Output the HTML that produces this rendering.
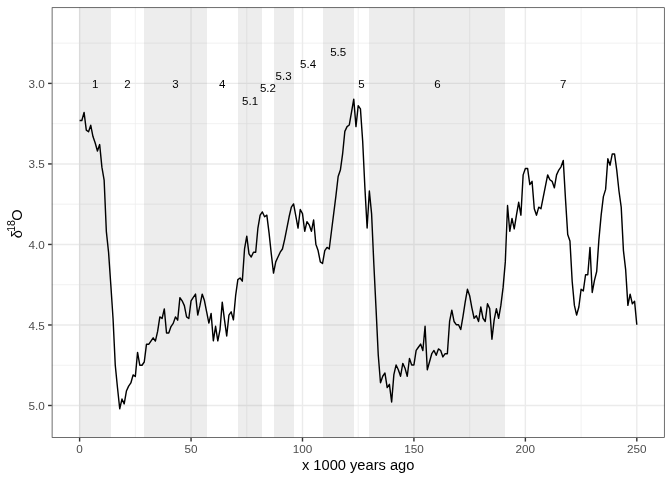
<!DOCTYPE html>
<html><head><meta charset="utf-8"><title>plot</title>
<style>
html,body{margin:0;padding:0;background:#fff;}
body{width:672px;height:480px;overflow:hidden;}
svg{display:block;filter:grayscale(1);}
text{font-family:"Liberation Sans",sans-serif;}
</style></head><body>
<svg width="672" height="480" viewBox="0 0 672 480">
<rect x="0" y="0" width="672" height="480" fill="#ffffff"/>
<g stroke="#EBEBEB" stroke-width="0.71" fill="none">
<line x1="51.75" x2="664.67" y1="43.14" y2="43.14"/>
<line x1="51.75" x2="664.67" y1="123.66" y2="123.66"/>
<line x1="51.75" x2="664.67" y1="204.19" y2="204.19"/>
<line x1="51.75" x2="664.67" y1="284.71" y2="284.71"/>
<line x1="51.75" x2="664.67" y1="365.24" y2="365.24"/>
<line y1="7.33" y2="437.9" x1="135.33" x2="135.33"/>
<line y1="7.33" y2="437.9" x1="246.77" x2="246.77"/>
<line y1="7.33" y2="437.9" x1="358.21" x2="358.21"/>
<line y1="7.33" y2="437.9" x1="469.65" x2="469.65"/>
<line y1="7.33" y2="437.9" x1="581.09" x2="581.09"/>
</g>
<g stroke="#EBEBEB" stroke-width="1.42" fill="none">
<line x1="51.75" x2="664.67" y1="83.40" y2="83.40"/>
<line x1="51.75" x2="664.67" y1="163.93" y2="163.93"/>
<line x1="51.75" x2="664.67" y1="244.45" y2="244.45"/>
<line x1="51.75" x2="664.67" y1="324.98" y2="324.98"/>
<line x1="51.75" x2="664.67" y1="405.50" y2="405.50"/>
<line y1="7.33" y2="437.9" x1="79.61" x2="79.61"/>
<line y1="7.33" y2="437.9" x1="191.05" x2="191.05"/>
<line y1="7.33" y2="437.9" x1="302.49" x2="302.49"/>
<line y1="7.33" y2="437.9" x1="413.93" x2="413.93"/>
<line y1="7.33" y2="437.9" x1="525.37" x2="525.37"/>
<line y1="7.33" y2="437.9" x1="636.81" x2="636.81"/>
</g>
<g fill="#7f7f7f" fill-opacity="0.14">
<rect x="79" y="7.33" width="32" height="430.57"/>
<rect x="144" y="7.33" width="63" height="430.57"/>
<rect x="238" y="7.33" width="24" height="430.57"/>
<rect x="274" y="7.33" width="20" height="430.57"/>
<rect x="323" y="7.33" width="31" height="430.57"/>
<rect x="369" y="7.33" width="136" height="430.57"/>
</g>
<polyline points="79.61,120.44 81.84,120.44 84.07,112.39 86.30,130.10 88.53,131.71 90.75,125.27 92.98,136.55 95.21,142.99 97.44,151.04 99.67,144.60 101.90,167.15 104.13,180.03 106.36,231.57 108.58,252.50 110.81,284.71 113.04,318.53 115.27,365.24 117.50,387.78 119.73,408.72 121.96,399.06 124.19,403.89 126.41,391.01 128.64,386.17 130.87,382.95 133.10,374.90 135.33,376.51 137.56,352.35 139.79,365.24 142.02,365.24 144.25,362.02 146.47,344.30 148.70,344.30 150.93,341.08 153.16,337.86 155.39,341.08 157.62,331.42 159.85,316.92 162.08,318.53 164.30,308.87 166.53,333.03 168.76,333.03 170.99,326.59 173.22,323.36 175.45,316.92 177.68,320.14 179.91,297.60 182.13,300.82 184.36,305.65 186.59,316.92 188.82,318.53 191.05,300.82 193.28,297.32 195.51,294.10 197.74,315.04 199.97,305.38 202.19,294.10 204.42,300.54 206.65,311.82 208.88,323.09 211.11,313.43 213.34,340.81 215.57,326.31 217.80,340.81 220.02,329.53 222.25,302.15 224.48,319.87 226.71,335.97 228.94,315.04 231.17,311.82 233.40,319.87 235.63,295.71 237.85,279.59 240.08,277.98 242.31,281.20 244.54,248.99 246.77,236.11 249.00,253.82 251.23,257.04 253.46,252.21 255.69,252.21 257.91,228.06 260.14,215.17 262.37,211.95 264.60,216.78 266.83,215.17 269.06,232.89 271.29,253.82 273.52,273.15 275.74,261.88 277.97,257.04 280.20,252.21 282.43,248.99 284.66,239.33 286.89,228.06 289.12,216.78 291.35,207.12 293.57,203.90 295.80,215.98 298.03,228.06 300.26,209.53 302.49,213.56 304.72,231.28 306.95,221.61 309.18,224.83 311.41,231.28 313.63,220.00 315.86,244.16 318.09,250.60 320.32,261.88 322.55,263.49 324.78,250.60 327.01,247.38 329.24,248.99 331.46,231.28 333.69,213.56 335.92,195.83 338.15,176.50 340.38,170.06 342.61,153.96 344.84,131.41 347.07,126.58 349.29,124.97 351.52,112.07 353.75,99.18 355.98,126.58 358.21,105.62 360.44,108.85 362.67,141.07 364.90,187.78 367.13,228.06 369.35,191.00 371.58,213.56 373.81,263.49 376.04,308.60 378.27,355.30 380.50,382.70 382.73,376.25 384.96,373.02 387.18,387.53 389.41,384.31 391.64,402.02 393.87,374.64 396.10,364.96 398.33,369.80 400.56,376.25 402.79,363.35 405.01,368.18 407.24,376.25 409.47,358.52 411.70,364.96 413.93,364.96 416.16,350.47 418.39,347.25 420.62,344.03 422.85,350.47 425.07,326.31 427.30,369.80 429.53,361.74 431.76,353.69 433.99,350.47 436.22,355.30 438.45,348.86 440.68,350.47 442.90,356.91 445.13,353.69 447.36,353.69 449.59,321.48 451.82,310.21 454.05,321.48 456.28,324.70 458.51,324.70 460.73,329.53 462.96,316.65 465.19,302.15 467.42,289.27 469.65,295.71 471.88,307.79 474.11,318.26 476.34,315.84 478.57,321.48 480.79,306.99 483.02,318.26 485.25,321.48 487.48,303.76 489.71,308.60 491.94,339.20 494.17,319.87 496.40,308.60 498.62,318.26 500.85,305.38 503.08,287.64 505.31,261.88 507.54,205.51 509.77,231.28 512.00,218.39 514.23,228.86 516.45,215.17 518.68,202.29 520.91,215.17 523.14,174.89 525.37,168.45 527.60,168.45 529.83,184.56 532.06,181.33 534.29,208.73 536.51,215.17 538.74,207.12 540.97,208.73 543.20,197.44 545.43,186.17 547.66,174.89 549.89,179.72 552.12,181.33 554.34,187.78 556.57,174.89 558.80,170.06 561.03,166.84 563.26,160.40 565.49,199.05 567.72,234.50 569.95,240.94 572.17,281.20 574.40,305.38 576.63,315.04 578.86,306.99 581.09,289.27 583.32,290.88 585.55,274.76 587.78,274.76 590.01,247.38 592.23,292.49 594.46,280.40 596.69,271.54 598.92,239.33 601.15,215.17 603.38,196.63 605.61,189.39 607.84,158.79 610.06,165.23 612.29,153.96 614.52,153.96 616.75,170.06 618.98,191.00 621.21,207.12 623.44,250.60 625.67,269.93 627.89,305.38 630.12,294.10 632.35,303.76 634.58,301.35 636.81,324.70" fill="none" stroke="#000" stroke-width="1.42" stroke-linejoin="round" stroke-linecap="butt"/>
<g font-size="11.5" fill="#000" text-anchor="middle">
<text x="95.21" y="88.40">1</text>
<text x="127.53" y="88.40">2</text>
<text x="175.45" y="88.40">3</text>
<text x="222.25" y="88.40">4</text>
<text x="250.11" y="104.51">5.1</text>
<text x="267.94" y="92.43">5.2</text>
<text x="283.55" y="80.35">5.3</text>
<text x="308.06" y="68.27">5.4</text>
<text x="338.15" y="56.19">5.5</text>
<text x="361.55" y="88.40">5</text>
<text x="437.33" y="88.40">6</text>
<text x="563.26" y="88.40">7</text>
</g>
<rect x="52.105" y="7.685" width="612.21" height="429.86" fill="none" stroke="#333333" stroke-width="0.71"/>
<g stroke="#333333" stroke-width="1.42">
<line x1="48.08" x2="51.75" y1="83.40" y2="83.40"/>
<line x1="48.08" x2="51.75" y1="163.93" y2="163.93"/>
<line x1="48.08" x2="51.75" y1="244.45" y2="244.45"/>
<line x1="48.08" x2="51.75" y1="324.98" y2="324.98"/>
<line x1="48.08" x2="51.75" y1="405.50" y2="405.50"/>
<line y1="437.9" y2="441.57" x1="79.61" x2="79.61"/>
<line y1="437.9" y2="441.57" x1="191.05" x2="191.05"/>
<line y1="437.9" y2="441.57" x1="302.49" x2="302.49"/>
<line y1="437.9" y2="441.57" x1="413.93" x2="413.93"/>
<line y1="437.9" y2="441.57" x1="525.37" x2="525.37"/>
<line y1="437.9" y2="441.57" x1="636.81" x2="636.81"/>
</g>
<g font-size="11.73" fill="#4D4D4D">
<text text-anchor="end" x="44.85" y="87.95">3.0</text>
<text text-anchor="end" x="44.85" y="168.48">3.5</text>
<text text-anchor="end" x="44.85" y="249.00">4.0</text>
<text text-anchor="end" x="44.85" y="329.53">4.5</text>
<text text-anchor="end" x="44.85" y="410.05">5.0</text>
<text text-anchor="middle" x="79.61" y="452.9">0</text>
<text text-anchor="middle" x="191.05" y="452.9">50</text>
<text text-anchor="middle" x="302.49" y="452.9">100</text>
<text text-anchor="middle" x="413.93" y="452.9">150</text>
<text text-anchor="middle" x="525.37" y="452.9">200</text>
<text text-anchor="middle" x="636.81" y="452.9">250</text>
</g>
<text x="358.2" y="470.0" font-size="14.67" text-anchor="middle" fill="#000">x 1000 years ago</text>
<g transform="translate(22,238.3) rotate(-90)" fill="#000"><text x="0" y="0" font-size="14.67">δ<tspan font-size="10.5" dy="-6.9" dx="-1.6">18</tspan><tspan font-size="14.67" dy="6.9" dx="-0.6">O</tspan></text></g>
</svg>
</body></html>
